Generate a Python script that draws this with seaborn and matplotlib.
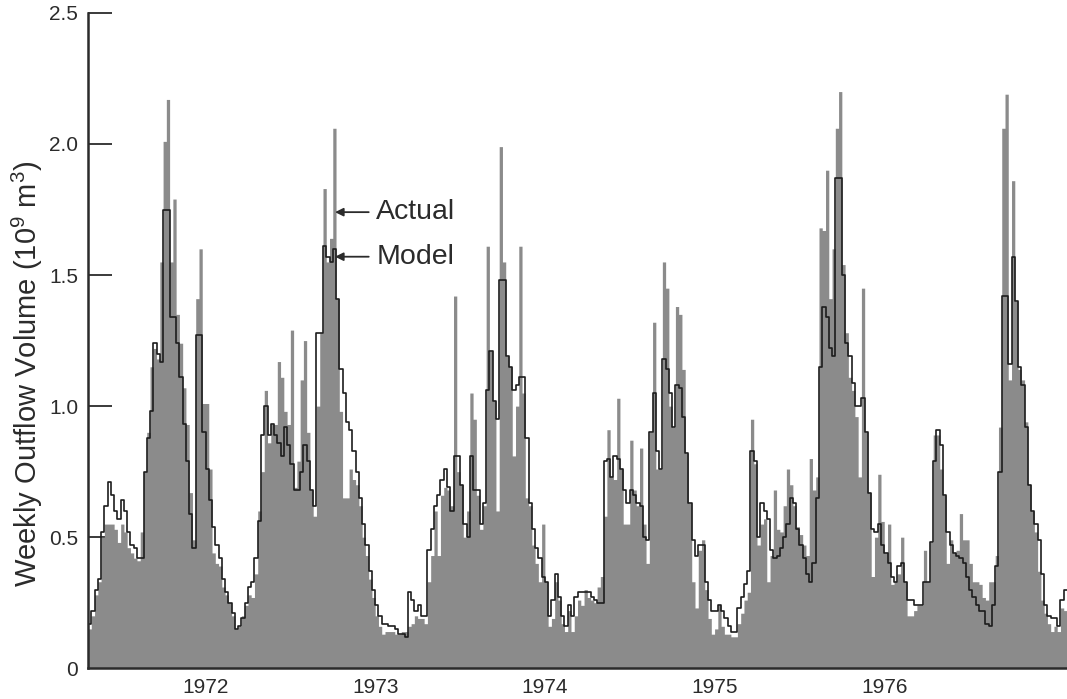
import numpy as np
import pandas as pd
import matplotlib
matplotlib.use("Agg")
import matplotlib.pyplot as plt
import seaborn as sns

# weekly outflow, 10^9 m3 (week 0 = mid-Oct 1971)
actual = [
    0.15, 0.2, 0.28, 0.33, 0.5, 0.55, 0.55, 0.55, 0.53, 0.48,
    0.55, 0.52, 0.46, 0.44, 0.42, 0.41, 0.52, 0.75, 0.9, 1.15,
    1.22, 1.18, 1.55, 2.01, 2.17, 1.55, 1.79, 1.35, 1.24, 1.07,
    0.93, 0.67, 0.49, 1.41, 1.6, 1.01, 1.01, 0.76, 0.44, 0.4,
    0.39, 0.31, 0.28, 0.25, 0.2, 0.15, 0.16, 0.2, 0.24, 0.28,
    0.27, 0.36, 0.6, 0.75, 1.06, 0.86, 0.93, 0.93, 1.17, 1.11,
    0.98, 0.93, 1.29, 0.69, 0.79, 1.1, 1.25, 0.9, 0.68, 0.58,
    1.0, 1.28, 1.83, 1.55, 1.64, 2.06, 1.41, 0.98, 0.65, 0.65,
    0.76, 0.72, 0.7, 0.62, 0.5, 0.43, 0.34, 0.27, 0.2, 0.16,
    0.13, 0.14, 0.14, 0.14, 0.13, 0.13, 0.14, 0.14, 0.16, 0.17,
    0.2, 0.19, 0.19, 0.17, 0.33, 0.43, 0.6, 0.43, 0.66, 0.69,
    0.68, 0.62, 1.42, 0.75, 0.7, 0.5, 0.6, 1.05, 0.95, 0.66,
    0.53, 0.62, 1.61, 1.21, 1.02, 0.6, 1.99, 1.55, 1.19, 1.15,
    0.81, 1.0, 1.61, 1.05, 0.65, 0.62, 0.47, 0.4, 0.33, 0.55,
    0.33, 0.16, 0.19, 0.33, 0.26, 0.17, 0.14, 0.22, 0.14, 0.2,
    0.26, 0.24, 0.3, 0.27, 0.26, 0.25, 0.31, 0.35, 0.58, 0.91,
    0.73, 0.72, 1.03, 0.76, 0.55, 0.55, 0.87, 0.68, 0.62, 0.84,
    0.55, 0.4, 0.9, 1.32, 0.76, 0.76, 1.55, 1.45, 1.0, 0.92,
    1.38, 1.35, 1.14, 0.82, 0.63, 0.33, 0.23, 0.45, 0.49, 0.3,
    0.19, 0.13, 0.15, 0.24, 0.16, 0.13, 0.13, 0.12, 0.12, 0.17,
    0.21, 0.26, 0.29, 0.95, 0.78, 0.47, 0.55, 0.57, 0.33, 0.43,
    0.68, 0.53, 0.52, 0.62, 0.76, 0.7, 0.62, 0.54, 0.51, 0.47,
    0.43, 0.8, 0.68, 0.73, 1.68, 1.67, 1.9, 1.41, 1.6, 2.06,
    2.2, 1.54, 1.28, 1.11, 1.06, 0.96, 0.73, 1.45, 0.9, 0.67,
    0.35, 0.5, 0.74, 0.56, 0.44, 0.55, 0.32, 0.33, 0.36, 0.5,
    0.33, 0.2, 0.2, 0.22, 0.24, 0.24, 0.45, 0.33, 0.48, 0.89,
    0.89, 0.76, 0.66, 0.4, 0.49, 0.44, 0.45, 0.59, 0.49, 0.49,
    0.4, 0.33, 0.33, 0.32, 0.27, 0.26, 0.33, 0.33, 0.43, 0.92,
    2.06, 2.19, 1.1, 1.86, 1.4, 1.14, 1.1, 0.94, 0.7, 0.6,
    0.52, 0.37, 0.26, 0.21, 0.17, 0.14, 0.16, 0.14, 0.23, 0.22,
]

model = [
    0.17, 0.22, 0.3, 0.34, 0.52, 0.62, 0.71, 0.66, 0.6, 0.57,
    0.64, 0.6, 0.52, 0.47, 0.46, 0.42, 0.42, 0.75, 0.88, 0.98,
    1.24, 1.2, 1.17, 1.75, 1.75, 1.34, 1.34, 1.24, 1.11, 0.93,
    0.79, 0.59, 0.46, 1.27, 1.27, 0.9, 0.76, 0.64, 0.54, 0.47,
    0.42, 0.34, 0.29, 0.25, 0.21, 0.15, 0.16, 0.19, 0.25, 0.31,
    0.33, 0.42, 0.56, 0.89, 1.0, 0.89, 0.93, 0.89, 0.86, 0.81,
    0.92, 0.85, 0.78, 0.68, 0.68, 0.75, 0.85, 0.79, 0.68, 0.62,
    1.28, 1.28, 1.61, 1.57, 1.55, 1.6, 1.41, 1.14, 1.05, 0.94,
    0.91, 0.83, 0.75, 0.65, 0.55, 0.47, 0.37, 0.3, 0.24, 0.2,
    0.17, 0.17, 0.16, 0.16, 0.15, 0.13, 0.13, 0.12, 0.29, 0.26,
    0.22, 0.24, 0.2, 0.2, 0.45, 0.53, 0.62, 0.66, 0.72, 0.76,
    0.69, 0.6, 0.81, 0.81, 0.7, 0.55, 0.5, 0.81, 0.68, 0.68,
    0.55, 0.63, 1.06, 1.21, 1.02, 0.95, 1.48, 1.48, 1.19, 1.15,
    1.06, 1.08, 1.11, 1.11, 0.88, 0.63, 0.53, 0.46, 0.42, 0.35,
    0.33, 0.2, 0.26, 0.36, 0.27, 0.2, 0.16, 0.24, 0.2, 0.27,
    0.29, 0.29, 0.29, 0.29, 0.27, 0.26, 0.25, 0.25, 0.79, 0.8,
    0.73, 0.81, 0.8, 0.76, 0.68, 0.63, 0.68, 0.66, 0.63, 0.62,
    0.5, 0.49, 0.9, 1.05, 0.83, 0.76, 1.18, 1.14, 1.05, 0.92,
    1.08, 1.07, 0.96, 0.82, 0.63, 0.49, 0.43, 0.47, 0.47, 0.33,
    0.26, 0.22, 0.22, 0.24, 0.22, 0.19, 0.16, 0.14, 0.14, 0.23,
    0.27, 0.32, 0.37, 0.83, 0.79, 0.5, 0.63, 0.6, 0.57, 0.45,
    0.42, 0.43, 0.46, 0.5, 0.55, 0.65, 0.63, 0.53, 0.47, 0.42,
    0.36, 0.33, 0.4, 0.65, 1.15, 1.38, 1.34, 1.22, 1.19, 1.87,
    1.87, 1.5, 1.24, 1.19, 1.09, 1.0, 1.0, 1.03, 0.9, 0.67,
    0.53, 0.52, 0.55, 0.47, 0.44, 0.4, 0.35, 0.33, 0.39, 0.4,
    0.33, 0.26, 0.26, 0.24, 0.24, 0.24, 0.33, 0.33, 0.48, 0.79,
    0.91, 0.85, 0.66, 0.52, 0.47, 0.44, 0.43, 0.42, 0.4, 0.35,
    0.3, 0.27, 0.24, 0.22, 0.22, 0.17, 0.16, 0.24, 0.39, 0.75,
    1.42, 1.42, 1.16, 1.57, 1.4, 1.15, 1.08, 0.92, 0.7, 0.6,
    0.55, 0.49, 0.36, 0.24, 0.2, 0.19, 0.19, 0.16, 0.26, 0.3,
]

years = ["1972", "1973", "1974", "1975", "1976"]
year_starts = [10, 62, 114, 166, 218, 270]   # week index of each year boundary
y_ticks = [0, 0.5, 1.0, 1.5, 2.0, 2.5]
y_labels = ["0", "0.5", "1.0", "1.5", "2.0", "2.5"]

n = len(actual)
df = pd.DataFrame({"week": np.arange(n) + 0.5, "actual": actual, "model": model})

sns.set_style("white")
plt.rcParams["font.family"] = ["Liberation Sans", "DejaVu Sans"]
plt.rcParams["mathtext.fontset"] = "custom"
plt.rcParams["mathtext.rm"] = "Liberation Sans"

ink = "#2b2b2b"
fig = plt.figure(figsize=(10.67, 6.99), dpi=100)
ax = fig.add_axes([0.0825, 0.044, 0.9175, 0.9375])

sns.histplot(data=df, x="week", weights="actual", binwidth=1, binrange=(0, n),
             element="step", fill=True, color="#8b8b8b", alpha=1, linewidth=0, ax=ax)
sns.histplot(data=df, x="week", weights="model", binwidth=1, binrange=(0, n),
             element="step", fill=False, color="#1c1c1c", linewidth=1.2, ax=ax)

ax.set_xlim(0, n)
ax.set_ylim(0, 2.5)

ax.set_xticks(year_starts)
ax.set_xticklabels([])
ax.set_xticks([(a + b) / 2 for a, b in zip(year_starts[:-1], year_starts[1:])], minor=True)
ax.set_xticklabels(years, minor=True)
ax.tick_params(axis="x", which="major", direction="in", length=7, width=1.3, color=ink)
ax.tick_params(axis="x", which="minor", length=0, pad=7, labelsize=15, labelcolor=ink)

ax.set_yticks(y_ticks)
ax.set_yticklabels(y_labels)
ax.tick_params(axis="y", direction="in", length=17, width=1.3, color=ink,
               pad=7, labelsize=15, labelcolor=ink, left=True)

ax.set_xlabel("")
ax.set_ylabel(r"Weekly Outflow Volume (10$^9$ m$^3$)", fontsize=21, color=ink)
ax.yaxis.set_label_coords(-0.044, 0.45)

for side in ["top", "right"]:
    ax.spines[side].set_visible(False)
for side in ["left", "bottom"]:
    ax.spines[side].set_color(ink)
    ax.spines[side].set_linewidth(1.8)

arrow = dict(arrowstyle="-|>", color=ink, lw=1.3, mutation_scale=12, shrinkA=3, shrinkB=0)
ax.annotate("Actual", xy=(75.7, 1.74), xytext=(88.3, 1.74), va="center", ha="left",
            fontsize=20.5, color=ink, arrowprops=arrow)
ax.annotate("Model", xy=(75.7, 1.57), xytext=(88.3, 1.57), va="center", ha="left",
            fontsize=20.5, color=ink, arrowprops=arrow)

fig.savefig("out.png", dpi=100, facecolor="white")
